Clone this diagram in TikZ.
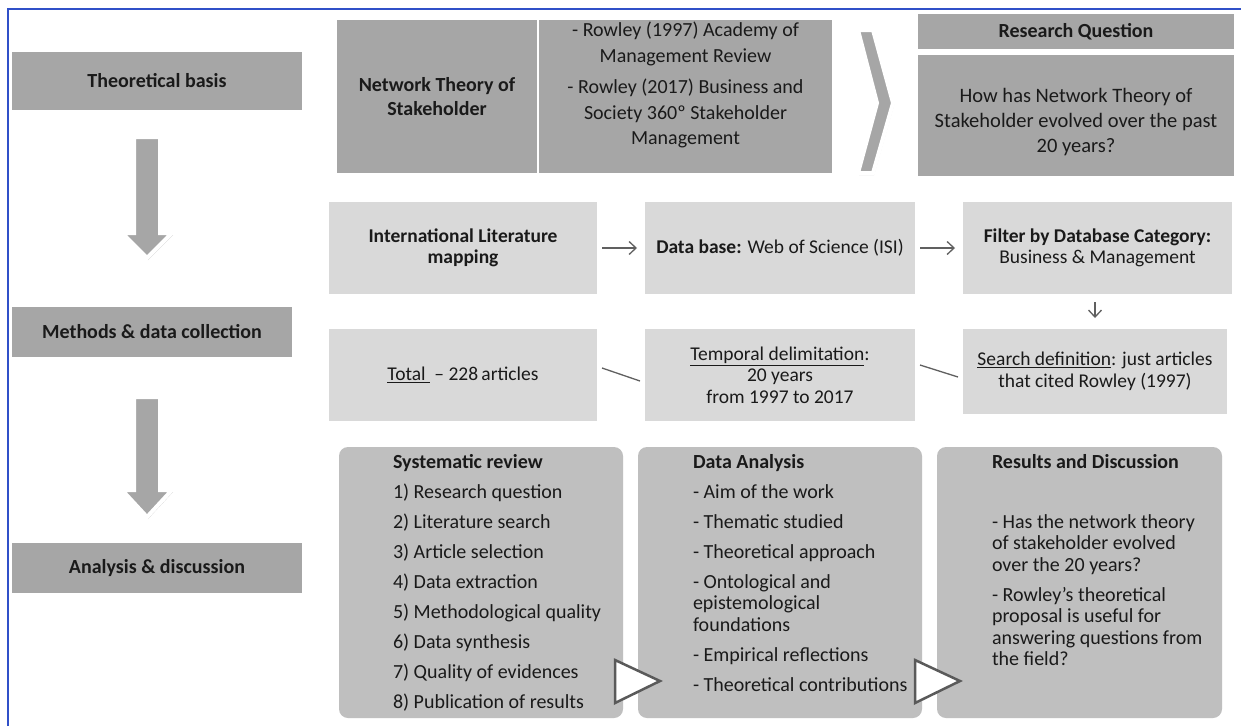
\documentclass[tikz,border=0pt]{standalone}
\usepackage{fontspec}
\setmainfont{Carlito}
\usetikzlibrary{arrows.meta,shadows,calc}
\definecolor{dkbox}{HTML}{A6A6A6}
\definecolor{ltbox}{HTML}{D9D9D9}
\definecolor{mdbox}{HTML}{BFBFBF}
\definecolor{framecol}{HTML}{3050C8}
\definecolor{linecol}{HTML}{606060}
\definecolor{tricol}{HTML}{5A5A5A}
\definecolor{txtcol}{HTML}{1A1A1A}
\begin{document}
\begin{tikzpicture}[x=1pt,y=-1pt,
  every node/.style={inner sep=0pt, outer sep=0pt, text=txtcol},
  fnt/.style={font=\fontsize{20}{24}\selectfont},
  framed/.style={draw=white, line width=5pt, outer sep=2.5pt,
     drop shadow={shadow xshift=1.5pt, shadow yshift=-2pt, opacity=0.3, fill=black}},
  leftbox/.style={framed, fill=dkbox, fnt, align=center},
  litebox/.style={framed, fill=ltbox, font=\fontsize{19.5}{21.5}\selectfont, align=center},
  darkbox/.style={fill=dkbox, fnt, align=center},
  roundbox/.style={fill=mdbox, rounded corners=9pt},
  listtxt/.style={anchor=north west, align=left},
  bigarrow/.style={fill=dkbox, draw=white, line width=4pt, line join=miter,
     drop shadow={shadow xshift=1pt, shadow yshift=-2pt, opacity=0.25, fill=black}},
  conn/.style={draw=linecol, line width=1.3pt},
  tipped/.style={conn, -{Straight Barb[length=7pt,width=13pt,line width=1.3pt]}},
  tri/.style={draw=tricol, line width=2.5pt, fill=white, line join=miter}
]
\useasboundingbox (0,0) rectangle (1241,726);
\fill[white] (0,0) rectangle (1241,726);

% left column
\node[leftbox, minimum width=295pt, minimum height=63pt] (theo) at (157,81) {\bfseries Theoretical basis};
\node[leftbox, minimum width=285pt, minimum height=55pt] (meth) at (152,332) {\bfseries Methods \& data collection};
\node[leftbox, minimum width=295pt, minimum height=55pt] (anal) at (157,568) {\bfseries Analysis \& discussion};

\draw[bigarrow] (134,137) -- (160,137) -- (160,233) -- (172,233) -- (147,258) -- (122,233) -- (134,233) -- cycle;
\draw[bigarrow] (134,397) -- (160,397) -- (160,490) -- (172,490) -- (147,517) -- (122,490) -- (134,490) -- cycle;

% top row
\node[darkbox, minimum width=200pt, minimum height=153pt] (net) at (437,96.5) {\bfseries Network Theory of\\\bfseries Stakeholder};
\node[darkbox, minimum width=293pt, minimum height=153pt] (row) at (685.5,96.5) {};
\node[fnt, align=center, font=\fontsize{20}{25.5}\selectfont] (rowtxt) at (685.5,85) {- Rowley (1997) Academy of\\Management Review\\[6pt]- Rowley (2017) Business and\\Society 360º Stakeholder\\Management};
\draw[bigarrow] (858,30) -- (873,30) -- (893,103) -- (873,173) -- (858,173) -- (877,103) -- cycle;
\node[darkbox, minimum width=316pt, minimum height=35pt] (rqh) at (1076,31.5) {\bfseries Research Question};
\node[darkbox, minimum width=316pt, minimum height=121pt] (rq) at (1076,115.5) {};
\node[fnt, align=center, font=\fontsize{20.5}{25}\selectfont] (rqtxt) at (1076,122) {How has Network Theory of\\Stakeholder evolved over the past\\20 years?};

% second row
\node[litebox, minimum width=273pt, minimum height=97pt] (ilm) at (463,248) {\bfseries International Literature\\\bfseries mapping};
\node[litebox, minimum width=275pt, minimum height=97pt] (db) at (780,248) {\textbf{Data base:} Web of Science (ISI)};
\node[litebox, minimum width=274pt, minimum height=97pt] (filt) at (1097.5,248) {\bfseries Filter by Database Category:\\Business \& Management};

% third row
\node[litebox, minimum width=273pt, minimum height=97pt] (total) at (463,375) {\underline{Total } -- 228\,articles};
\node[litebox, minimum width=275pt, minimum height=97pt] (temp) at (780,375) {\underline{Temporal delimitation}:\\20 years\\from 1997 to 2017};
\node[litebox, minimum width=269pt, minimum height=90pt] (search) at (1095,371.5) {\underline{Search definition}: just articles\\that cited Rowley (1997)};

\draw[tipped, shorten >=3pt] (ilm) -- (db);
\draw[tipped, shorten >=3pt] (db) -- (filt);
\draw[tipped, shorten <=3pt, shorten >=6pt] (filt.south -| search.north) -- (search.north);
\draw[conn] ([yshift=7pt]total.east) -- ([yshift=-6pt]temp.west);
\draw[conn] ([yshift=10pt]temp.east) -- ([yshift=-5.5pt]search.west);

% fourth row
\node[roundbox, minimum width=284pt, minimum height=271pt] (sys) at (481,582.5) {};
\node[roundbox, minimum width=284pt, minimum height=271pt] (da) at (780,582.5) {};
\node[roundbox, minimum width=285pt, minimum height=271pt] (res) at (1079.5,582.5) {};

\node[listtxt, font=\fontsize{20}{30}\selectfont] (systxt) at (393,454) {\textbf{Systematic review}\\1) Research question\\2) Literature search\\3) Article selection\\4) Data extraction\\5) Methodological quality\\6) Data synthesis\\7) Quality of evidences\\8) Publication of results};
\node[listtxt, font=\fontsize{20}{21.5}\selectfont] (datxt) at (693,454) {\textbf{Data Analysis}\\[8.5pt]- Aim of the work\\[8.5pt]- Thematic studied\\[8.5pt]- Theoretical approach\\[8.5pt]- Ontological and\\epistemological\\foundations\\[8.5pt]- Empirical reflections\\[8.5pt]- Theoretical contributions};
\node[listtxt, font=\fontsize{20}{21.5}\selectfont] (restxt) at (992,454) {\textbf{Results and Discussion}\\[38.5pt]- Has the network theory\\of stakeholder evolved\\over the 20 years?\\[8.5pt]- Rowley's theoretical\\proposal is useful for\\answering questions from\\the field?};

\draw[tri] (615,660) -- (660,681) -- (615,703) -- cycle;
\draw[tri] (915,660) -- (960,681) -- (915,703) -- cycle;

% frame
\draw[framecol, line width=1.5pt] (8,726) -- (8,9) -- (1241,9);
\end{tikzpicture}
\end{document}
